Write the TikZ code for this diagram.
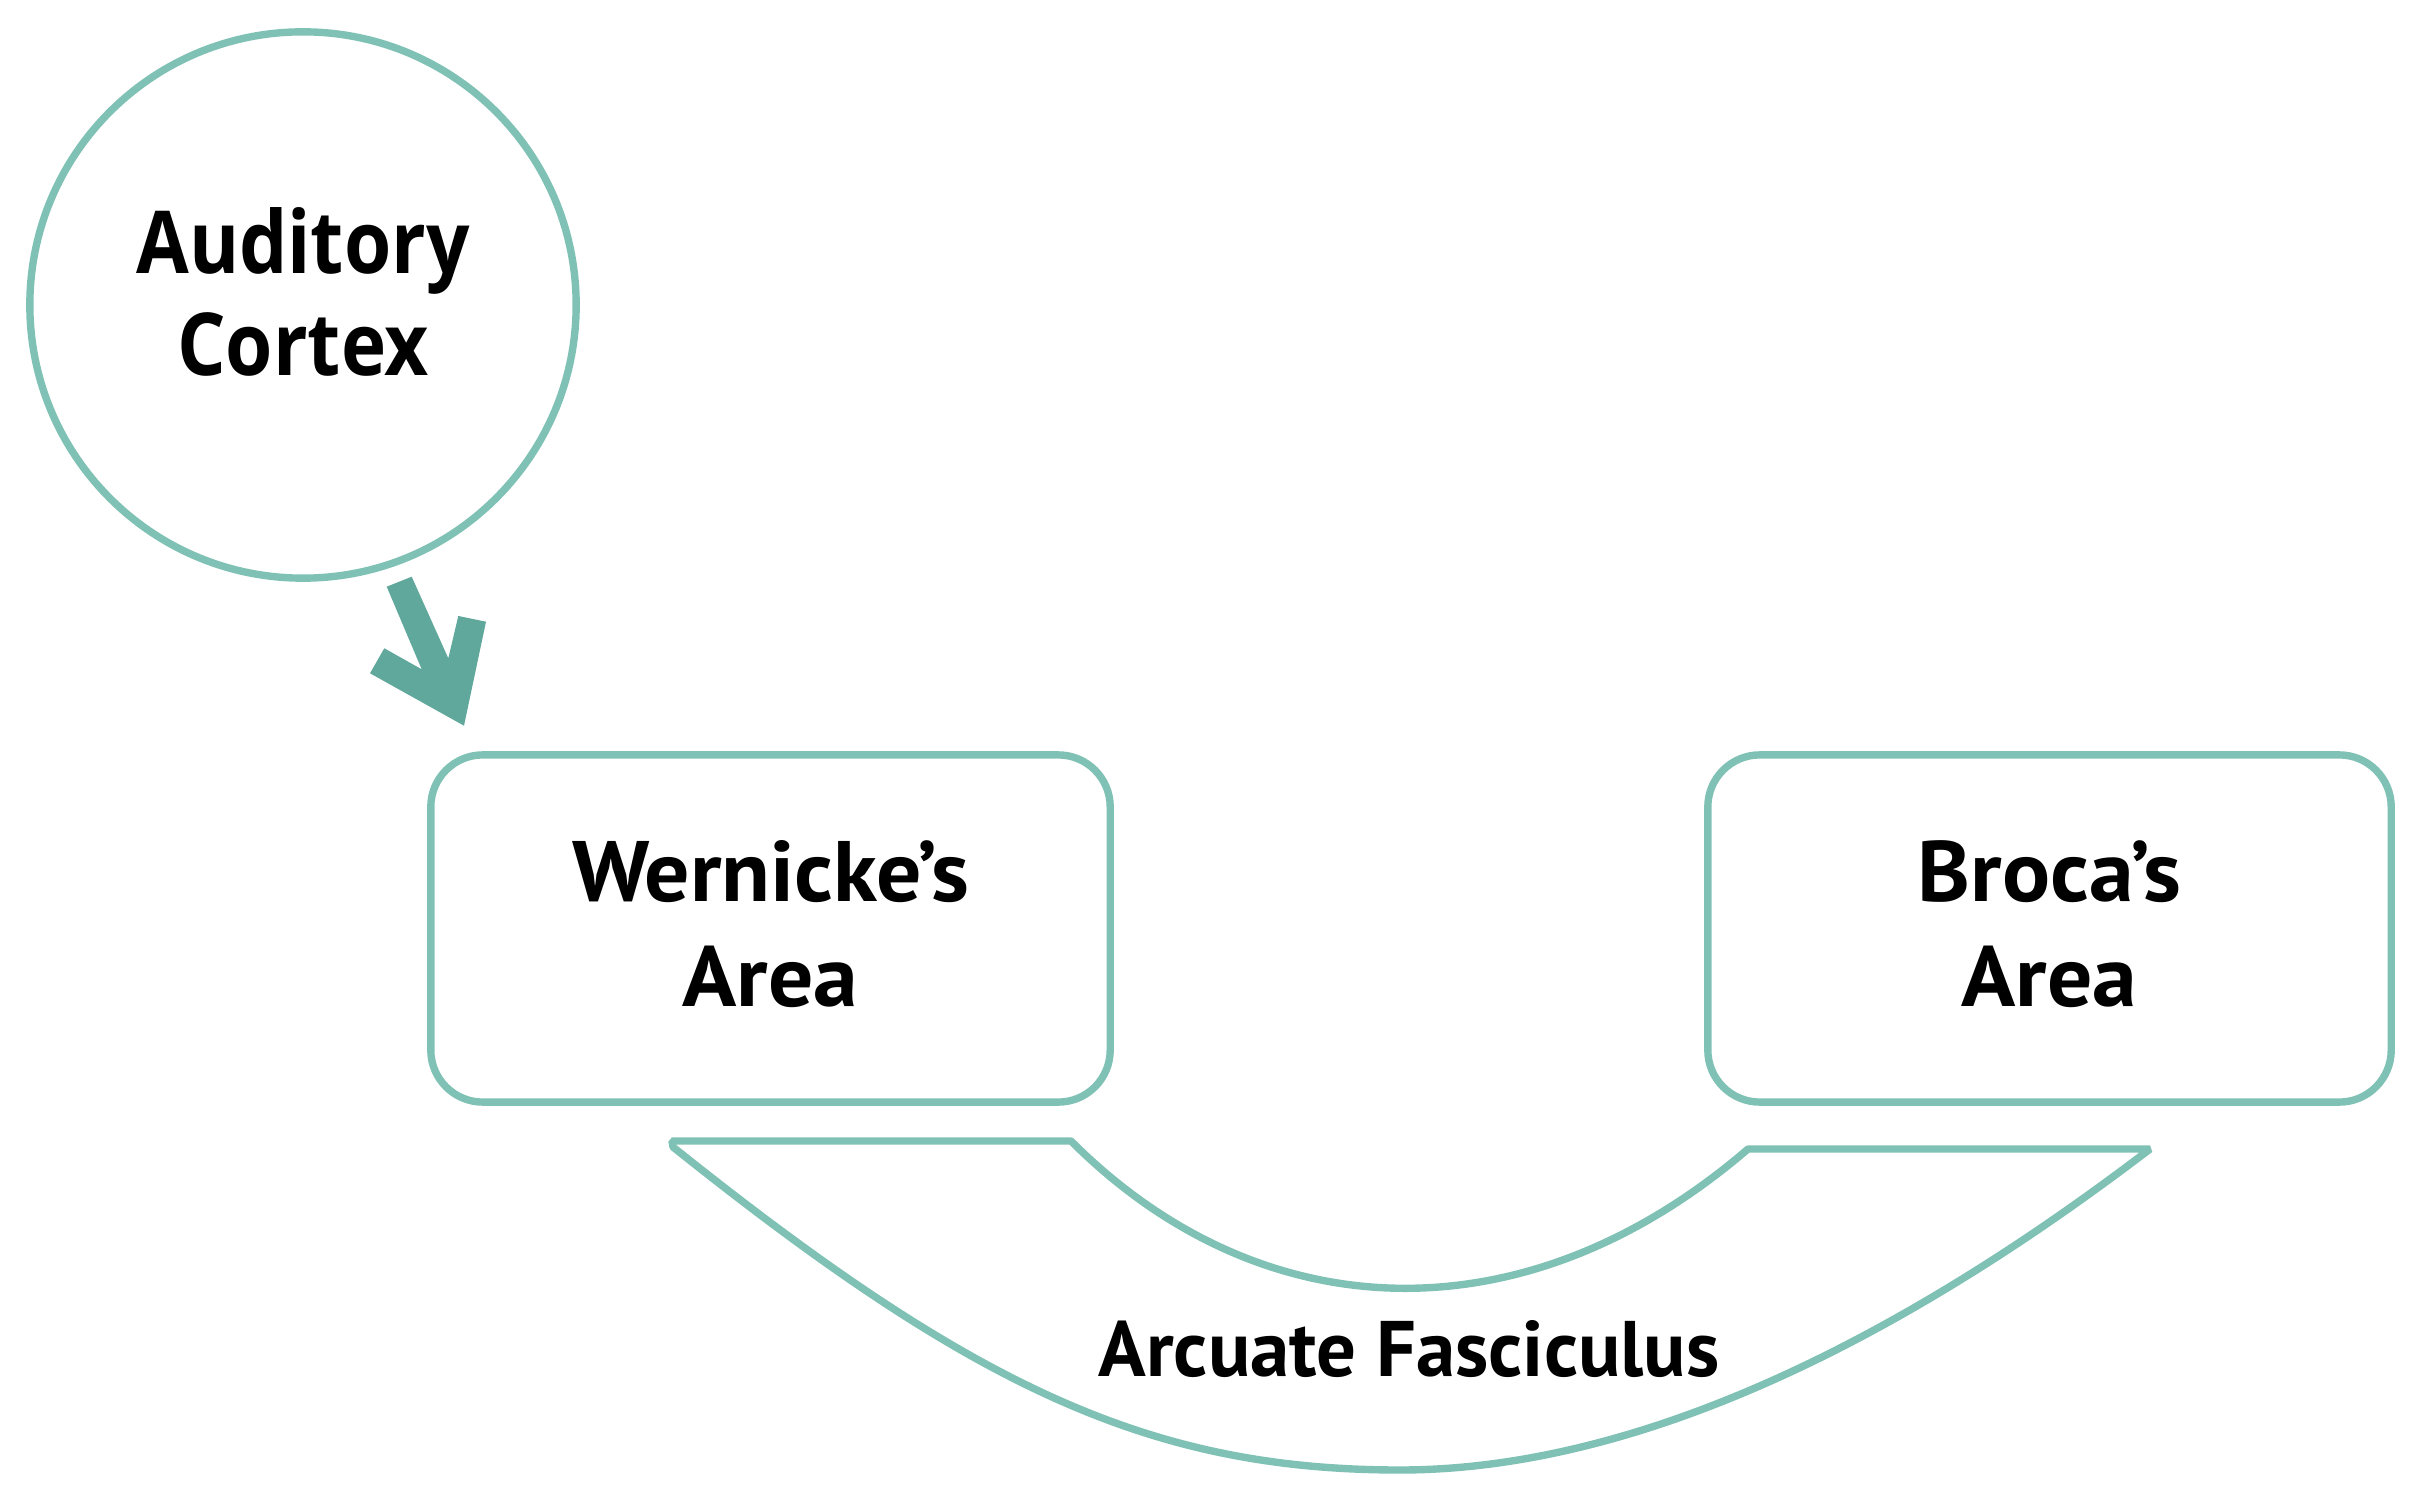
\documentclass[tikz,border=0pt]{standalone}
\usepackage{fontspec}
\newfontfamily\circfont{Open Sans}[FakeStretch=0.88]
\newfontfamily\boxfont{PT Sans}[FakeStretch=1.045]
\newfontfamily\fibrefont{PT Sans}
\definecolor{tealline}{HTML}{80C1B5}
\definecolor{tealarrow}{HTML}{60A89B}
\begin{document}
\begin{tikzpicture}[x=0.01cm, y=-0.01cm,
  outline/.style={draw=tealline, line width=2.1pt},
  areabox/.style={outline, rounded corners=0.52cm, inner sep=0pt, minimum height=3.47cm, align=center,
    text depth=2.9pt, font=\boxfont\bfseries\fontsize{24.4}{29.9}\selectfont},
  cortex/.style={outline, circle, inner sep=0pt, minimum size=5.46cm, align=center,
    text depth=7.6pt, font=\circfont\bfseries\fontsize{24.7}{28.9}\selectfont},
  fibrelabel/.style={font=\fibrefont\bfseries\fontsize{22.4}{26}\selectfont, inner sep=0pt, anchor=base}
]
\useasboundingbox (0,0) rectangle (2419,1501);

% nodes
\node[cortex] (aud) at (303,305) {Auditory\\Cortex};
\node[areabox, minimum width=6.79cm] (wer) at (770.5,928.5) {Wernicke’s\\Area};
\node[areabox, minimum width=6.83cm] (bro) at (2049.5,928.5) {Broca’s\\Area};

% arrow from auditory cortex towards Wernicke's area
\coordinate (s1) at (386.7,586.7);
\coordinate (s2) at (411.7,576.7);
\coordinate (s3) at (448.3,658.3);
\coordinate (r1) at (458.3,616);
\coordinate (r2) at (486,621.7);
\coordinate (tip) at (464,725.7);
\coordinate (l1) at (370,673.3);
\coordinate (l2) at (384.3,648.3);
\coordinate (s4) at (421.7,669.3);
\fill[tealarrow] (s1) -- (s2) -- (s3) -- (r1) -- (r2) -- (tip) -- (l1) -- (l2) -- (s4) -- cycle;

% arcuate fasciculus
\coordinate (a1) at (672,1141);
\coordinate (a2) at (1071,1141);
\coordinate (b1) at (1748,1149);
\coordinate (b2) at (2150,1149);
\coordinate (ob) at (1400,1470);
\coordinate (a3) at (673,1147);
\draw[outline, line join=bevel] (a1) -- (a2)
  .. controls (1262,1332) and (1526,1340) .. (b1) -- (b2)
  .. controls (1850,1378) and (1600,1470) .. (ob)
  .. controls (1150,1470) and (973,1387) .. (a3) -- cycle;
\node[fibrelabel] (arc) at (1409,1376) {Arcuate Fasciculus};
\end{tikzpicture}
\end{document}
